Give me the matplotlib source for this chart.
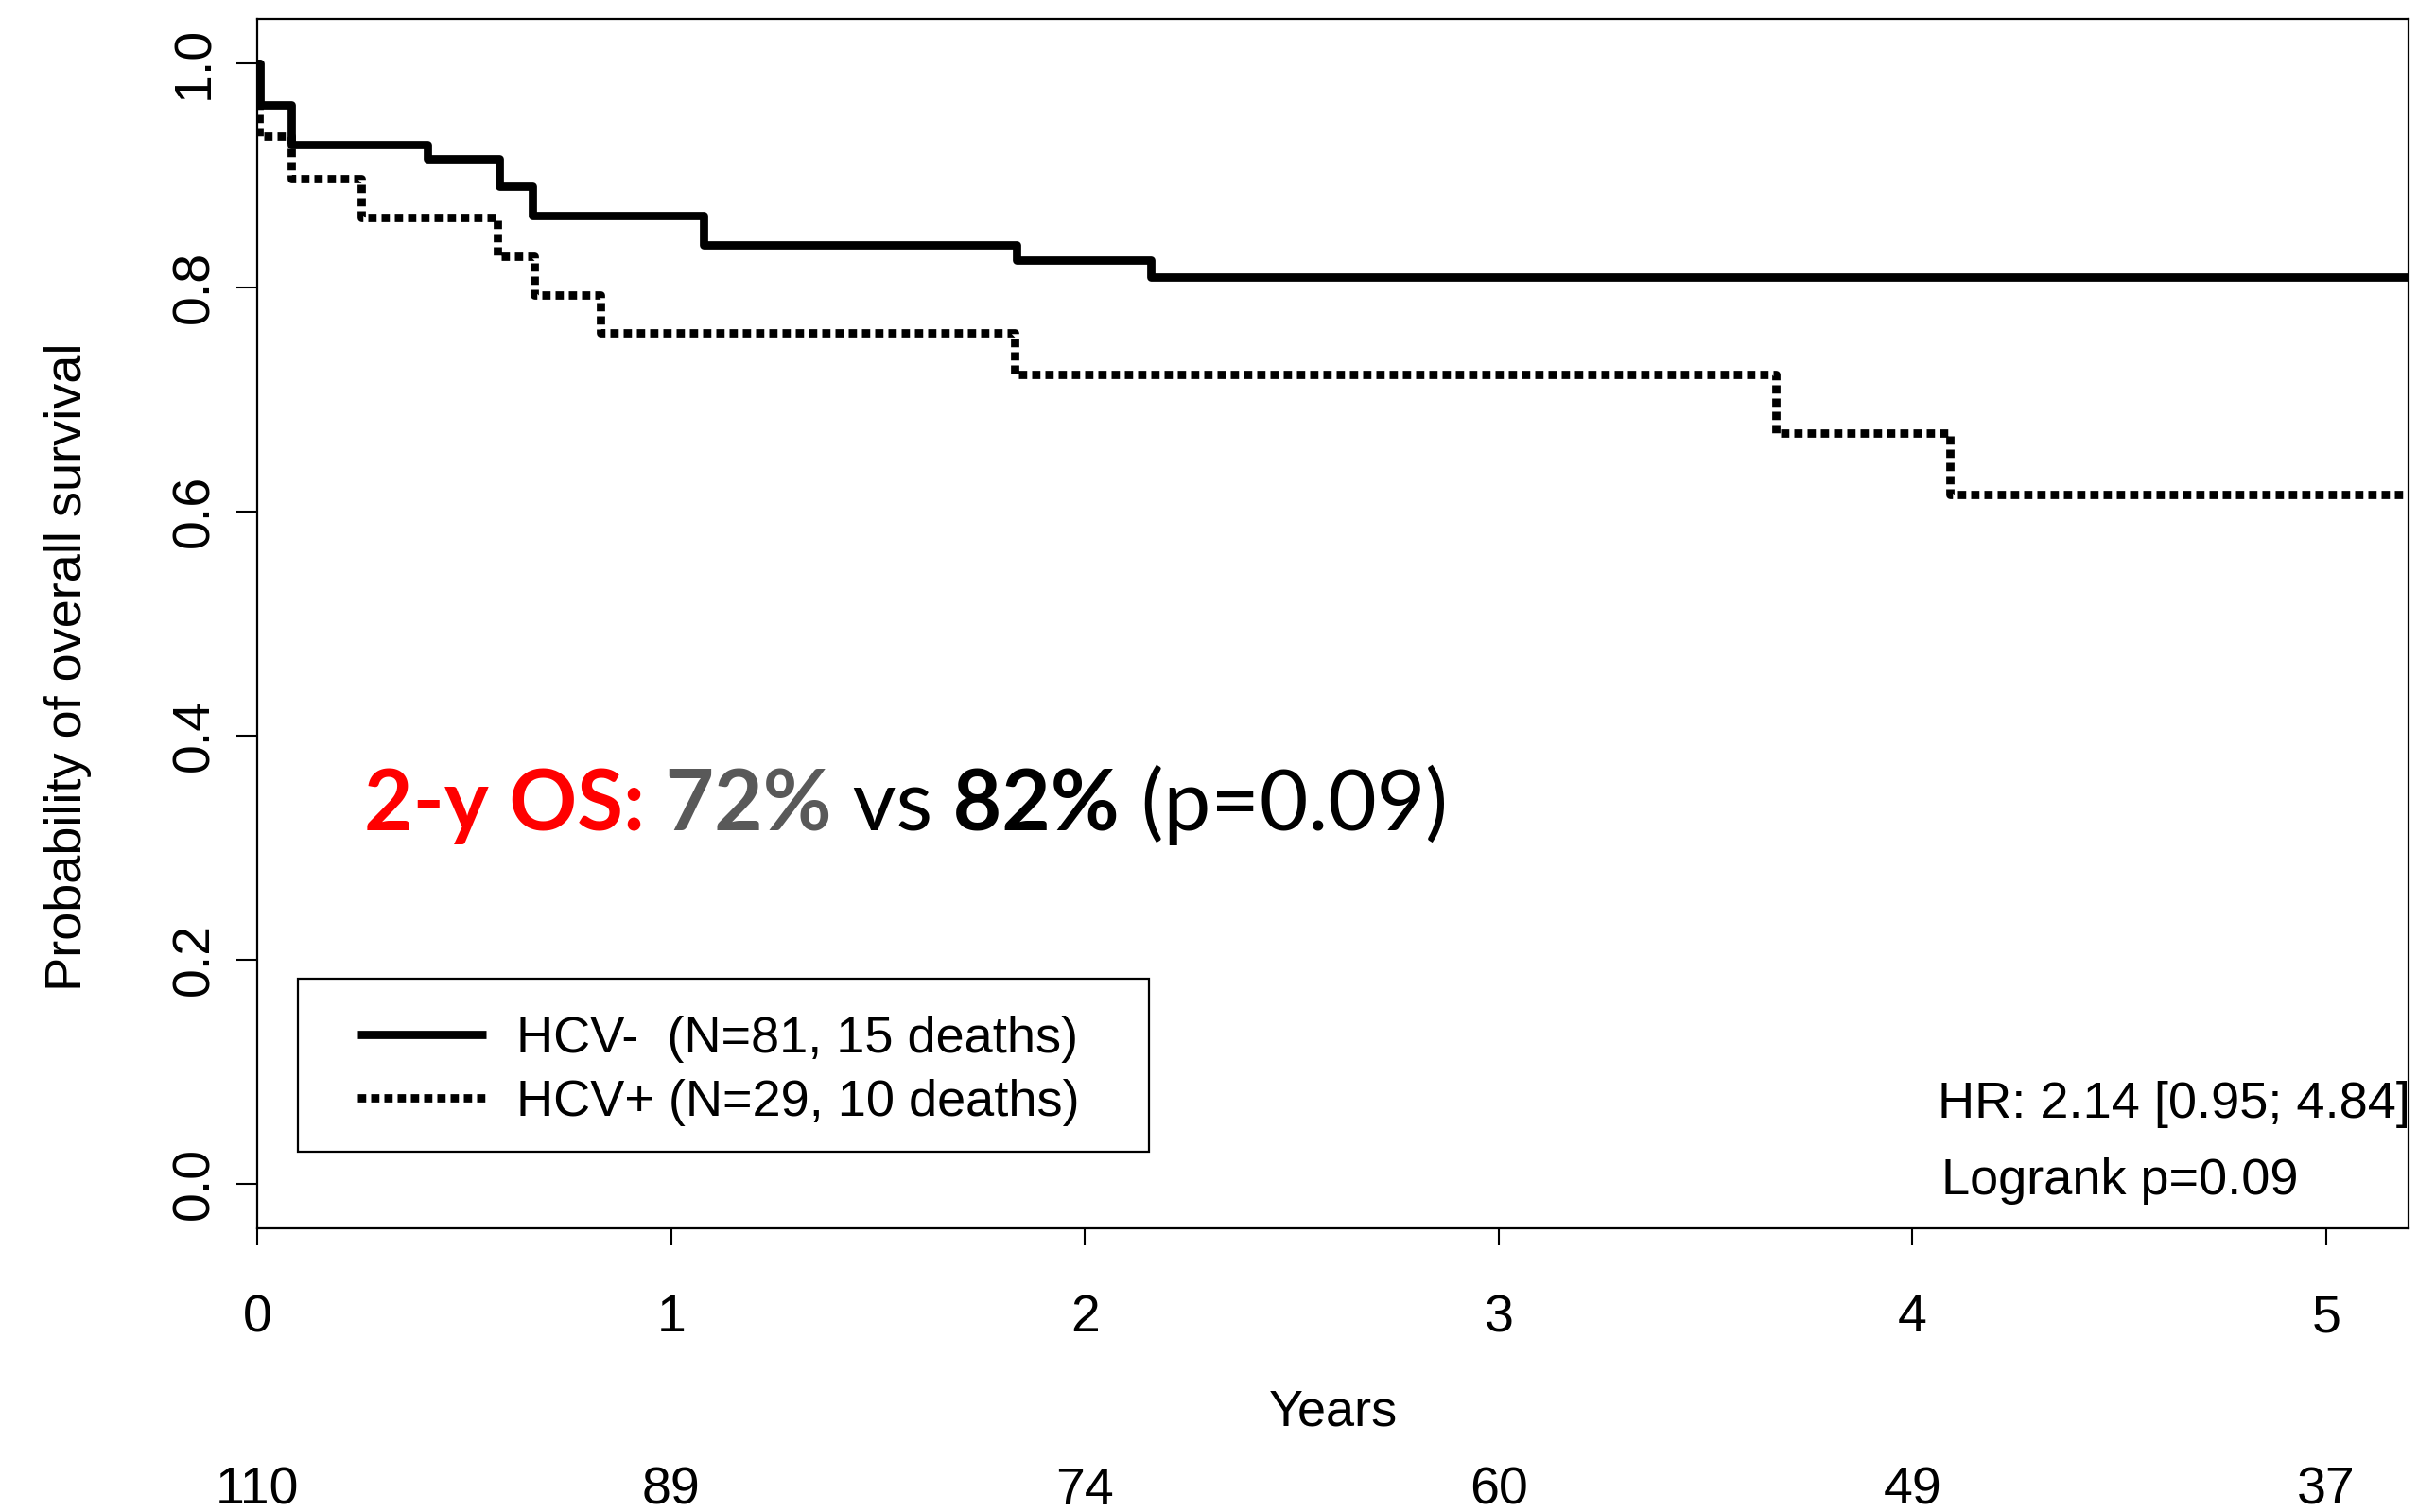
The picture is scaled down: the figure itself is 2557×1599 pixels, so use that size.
import matplotlib
matplotlib.use("Agg")
import matplotlib.pyplot as plt
import matplotlib.transforms as mtransforms
from matplotlib.lines import Line2D
from matplotlib.patches import Rectangle

plt.rcParams["font.family"] = ["Liberation Sans", "DejaVu Sans"]

# Kaplan-Meier steps (years, survival probability)
hcv_neg_time = [0.0, 0.005, 0.082, 0.41, 0.585, 0.665, 1.078, 1.835, 2.16, 5.2]
hcv_neg_surv = [1.0, 0.963, 0.927, 0.915, 0.890, 0.864, 0.838, 0.824, 0.809, 0.809]

hcv_pos_time = [0.0, 0.004, 0.082, 0.25, 0.58, 0.67, 0.83, 1.83, 3.67, 4.09, 5.2]
hcv_pos_surv = [1.0, 0.935, 0.897, 0.862, 0.828, 0.793, 0.759, 0.722, 0.670, 0.615, 0.615]

legend_labels = ["HCV-  (N=81, 15 deaths)", "HCV+ (N=29, 10 deaths)"]

year_ticks = [0, 1, 2, 3, 4, 5]
at_risk = [110, 89, 74, 60, 49, 37]
prob_ticks = [0.0, 0.2, 0.4, 0.6, 0.8, 1.0]

os_pieces = ["2-y OS:", " 72%", " vs", " 82%", " (p=0.09)"]
os_colors = ["#FF0000", "#595959", "black", "black", "black"]
os_weights = ["bold", "bold", "normal", "bold", "normal"]

hr_text = "HR: 2.14 [0.95; 4.84]"
logrank_text = "Logrank p=0.09"

FS = 40
LW = 6.3
DOTS = (0, (1.0, 0.6))

fig = plt.figure(figsize=(25.57, 15.99), dpi=100)
ax = fig.add_axes([0.1065, 0.1876, 0.8897, 0.8002])

ax.step(hcv_neg_time, hcv_neg_surv, where="post", color="black", lw=LW,
        solid_capstyle="butt", zorder=3)
ax.step(hcv_pos_time, hcv_pos_surv, where="post", color="black", lw=LW,
        linestyle=DOTS, dash_capstyle="butt", zorder=2)

ax.set_xlim(0, 5.2)
ax.set_ylim(-0.04, 1.04)
ax.set_xticks(year_ticks)
ax.set_xticklabels([str(t) for t in year_ticks])
ax.set_yticks(prob_ticks)
ax.set_yticklabels([f"{p:.1f}" for p in prob_ticks])

for spine in ax.spines.values():
    spine.set_linewidth(1.6)
ax.tick_params(axis="x", direction="out", length=13, width=1.5, pad=37, labelsize=FS)
ax.tick_params(axis="y", direction="out", length=16, width=1.5, pad=13, labelsize=FS,
               labelrotation=90)
for lab in ax.get_yticklabels():
    lab.set_verticalalignment("center")

fig.text(0.028, 0.559, "Probability of overall survival", rotation=90,
         ha="center", va="center", fontsize=FS - 1)
fig.text(ax.get_position().x0 + ax.get_position().width / 2, 0.0658, "Years",
         ha="center", va="center", fontsize=FS - 1)

# numbers at risk under the axis
risk_tr = mtransforms.blended_transform_factory(ax.transData, fig.transFigure)
for t, n in zip(year_ticks, at_risk):
    ax.text(t, 0.0138, str(n), transform=risk_tr, ha="center", va="center",
            fontsize=FS, clip_on=False)

# legend: plain black box with the two line samples
ax.add_patch(Rectangle((0.0186, 0.0637), 0.3957, 0.1427, transform=ax.transAxes,
                       fill=False, edgecolor="black", lw=1.6, zorder=5))
handles = [
    Line2D([0], [0], color="black", lw=LW, solid_capstyle="butt"),
    Line2D([0], [0], color="black", lw=LW, linestyle=DOTS, dash_capstyle="butt"),
]
ax.legend(handles, legend_labels, loc="upper left", bbox_to_anchor=(0.0466, 0.176),
          frameon=False, fontsize=FS - 1, handlelength=2.5, handletextpad=0.6,
          borderpad=0, borderaxespad=0, labelspacing=0.32)

ax.text(4.06, 0.059, hr_text, fontsize=FS - 1, ha="left", va="baseline")
ax.text(4.07, -0.0096, logrank_text, fontsize=FS - 1, ha="left", va="baseline")

# 2-year OS summary, pieces laid out one after another
fig.canvas.draw()
renderer = fig.canvas.get_renderer()
offset = 0.0
for piece, color, weight in zip(os_pieces, os_colors, os_weights):
    tr = mtransforms.offset_copy(ax.transData, fig=fig, x=offset, y=0, units="dots")
    txt = ax.text(0.257, 0.315, piece, transform=tr, color=color, fontweight=weight,
                  fontsize=64, family=["Lato", "DejaVu Sans"], ha="left", va="baseline")
    offset += txt.get_window_extent(renderer).width

fig.savefig("out.png", dpi=100)
